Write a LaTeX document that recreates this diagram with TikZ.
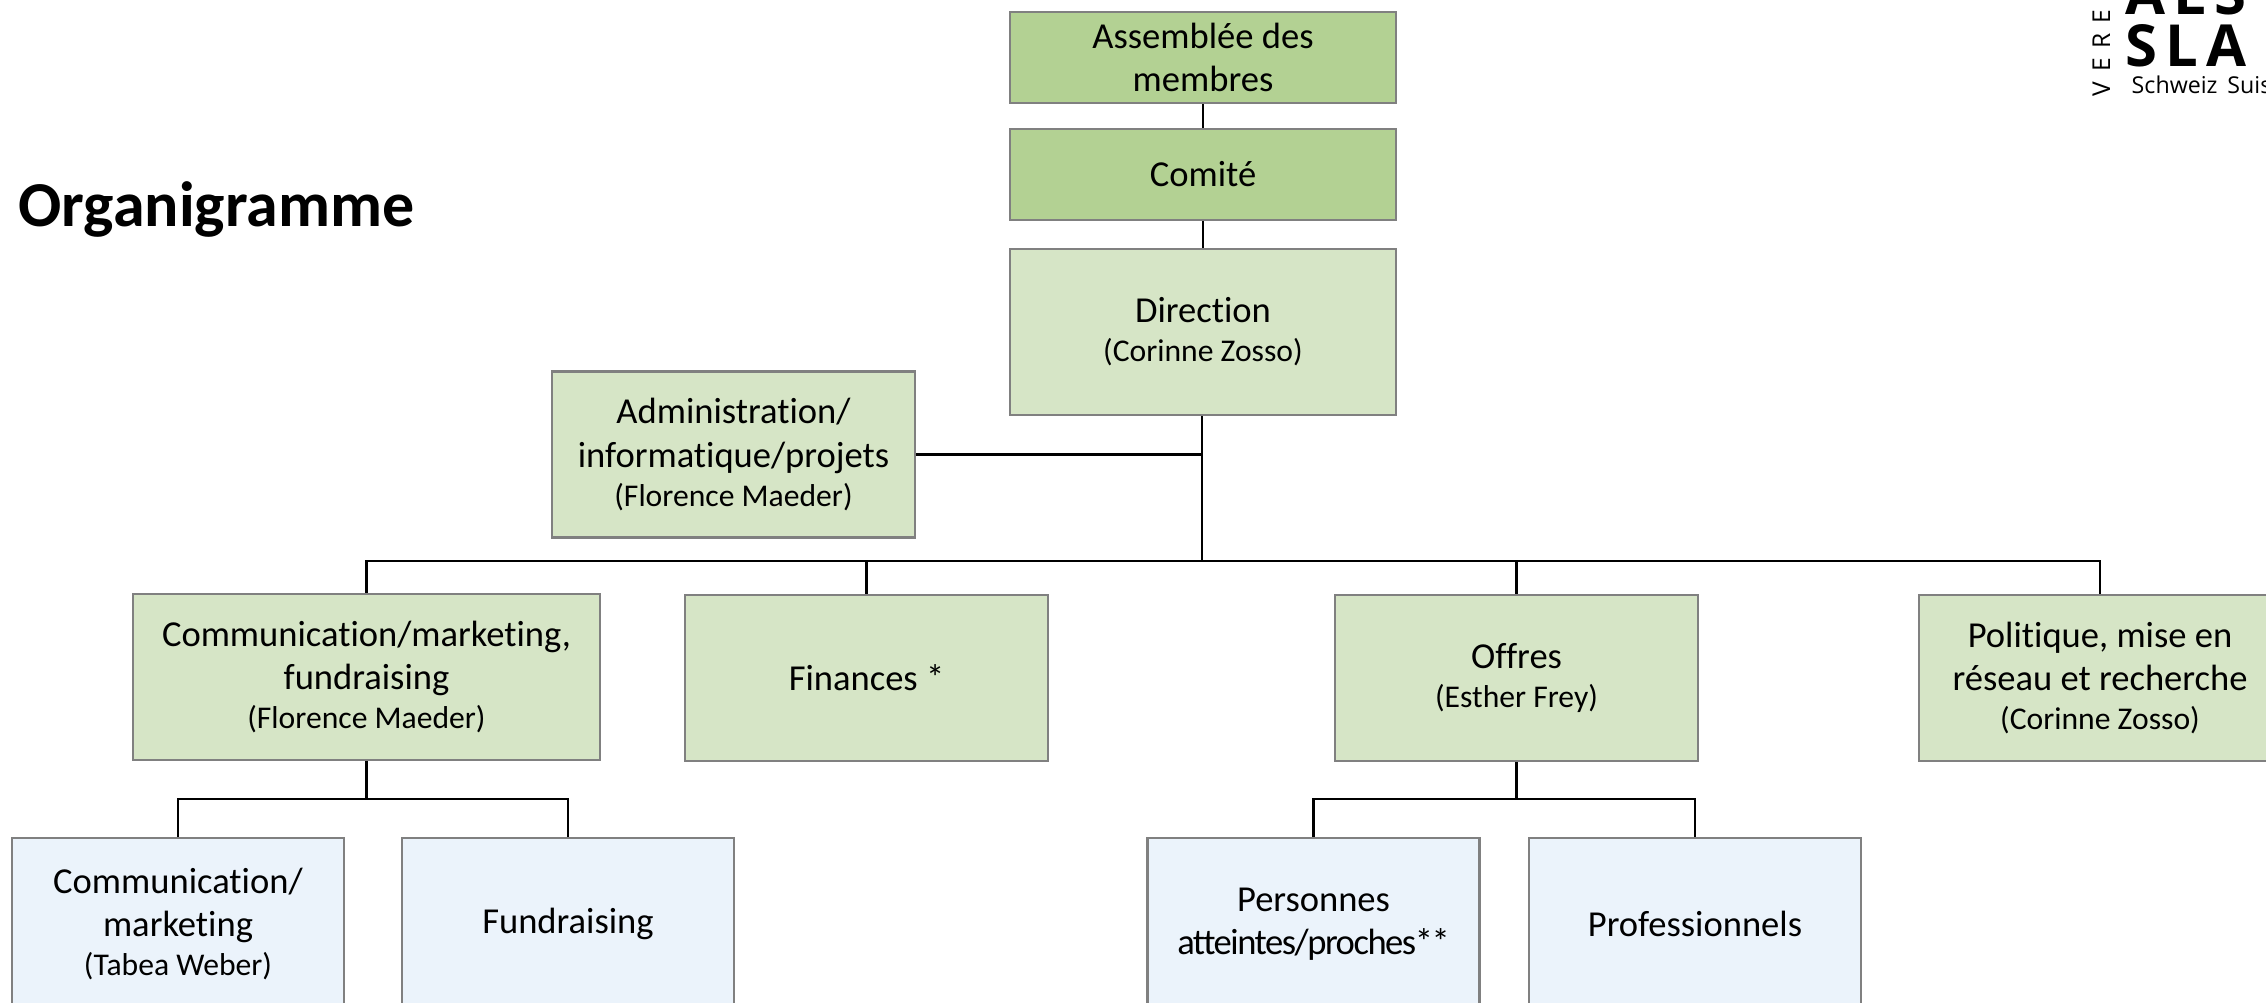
\documentclass[tikz,border=0pt]{standalone}
\usepackage{fontspec}
\usepackage{xcolor}
\setmainfont{Carlito}[Ligatures=NoCommon]
\newfontfamily\logofont{Open Sans}
\newcommand{\pname}[1]{{\fontsize{9}{10}\selectfont #1}}

\definecolor{darkgreen}{HTML}{B3D193}
\definecolor{lightgreen}{HTML}{D6E5C6}
\definecolor{lightblue}{HTML}{EBF3FB}
\definecolor{edgegray}{HTML}{808080}

\begin{document}
\begin{tikzpicture}[
  box/.style={draw=edgegray, line width=0.6pt, align=center, inner sep=0pt,
    font=\fontsize{10.4}{12.3}\selectfont},
  headbox/.style={box, fill=darkgreen, minimum width=3.86cm, minimum height=0.91cm},
  unitbox/.style={box, fill=lightgreen, minimum height=1.66cm},
  teambox/.style={box, fill=lightblue, minimum width=3.32cm, minimum height=1.72cm},
  link/.style={line width=0.6pt}
]
\useasboundingbox (0,0) rectangle (22.66,-10.03);
\clip (0,0) rectangle (22.66,-10.03);

% Title
\node[anchor=base west, inner sep=0pt, font=\bfseries\fontsize{18.2}{20}\selectfont] (title) at (0.18,-2.27) {Organigramme};

% Logo
\node[anchor=base west, inner sep=0pt, font=\logofont\bfseries\fontsize{16.5}{17}\selectfont] (logoals) at (21.25,-0.15) {\addfontfeature{LetterSpace=14}ALS};
\node[anchor=base west, inner sep=0pt, font=\logofont\bfseries\fontsize{16.5}{17}\selectfont] (logosla) at (21.25,-0.67) {\addfontfeature{LetterSpace=14}SLA};
\node[anchor=base west, inner sep=0pt, font=\logofont\fontsize{6.6}{7}\selectfont] (logotext) at (21.31,-0.94) {Schweiz\, Suisse};
\node[anchor=base west, inner sep=0pt, rotate=90, font=\logofont\fontsize{7}{8}\selectfont] (logovert) at (21.10,-0.97) {\addfontfeature{LetterSpace=40}VEREIN};

% Top of the tree
\node[headbox] (asm) at (12.03,-0.575) {Assemblée des\\membres};
\node[headbox] (comite) at (12.03,-1.745) {Comité};
\node[unitbox, minimum width=3.86cm] (dir) at (12.03,-3.32) {Direction\\[-1.2pt]\pname{(Corinne Zosso)}};
\node[unitbox, minimum width=3.63cm] (admin) at (7.335,-4.545) {Administration/\\informatique/projets\\[-1.2pt]\pname{(Florence Maeder)}};

% Second level
\node[unitbox, minimum width=4.67cm] (commf) at (3.665,-6.77) {Communication/marketing,\\fundraising\\[-1.2pt]\pname{(Florence Maeder)}};
\node[unitbox, minimum width=3.63cm] (fin) at (8.665,-6.78) {Finances *};
\node[unitbox, minimum width=3.63cm] (offres) at (15.165,-6.78) {Offres\\[-1.2pt]\pname{(Esther Frey)}};
\node[unitbox, minimum width=3.62cm] (polit) at (21.00,-6.78) {Politique, mise en\\réseau et recherche\\[-1.2pt]\pname{(Corinne Zosso)}};

% Third level
\node[teambox] (commm) at (1.78,-9.24) {Communication/\\marketing\\[-1.2pt]\pname{(Tabea Weber)}};
\node[teambox] (fundr) at (5.68,-9.24) {Fundraising};
\node[teambox] (pers) at (13.135,-9.24) {Personnes\\{\addfontfeature{LetterSpace=-4}atteintes/proches**}};
\node[teambox] (prof) at (16.95,-9.24) {Professionnels};

% Connectors
\coordinate (bus) at (12.02,-5.61);
\coordinate (subl) at (3.665,-7.99);
\coordinate (subr) at (15.165,-7.99);
\draw[link] (asm) -- (comite);
\draw[link] (comite) -- (dir);
\draw[link] (dir.south -| bus) -- (bus);
\draw[link] (admin.east) -- (admin.east -| bus);
\draw[link] (commf.north) |- (bus) -- (polit.north |- bus) -- (polit.north);
\draw[link] (fin.north) -- (fin.north |- bus);
\draw[link] (offres.north) -- (offres.north |- bus);
\draw[link] (commf.south) -- (subl);
\draw[link] (commm.north) |- (subl) -| (fundr.north);
\draw[link] (offres.south) -- (subr);
\draw[link] (pers.north) |- (subr) -| (prof.north);
\end{tikzpicture}
\end{document}
